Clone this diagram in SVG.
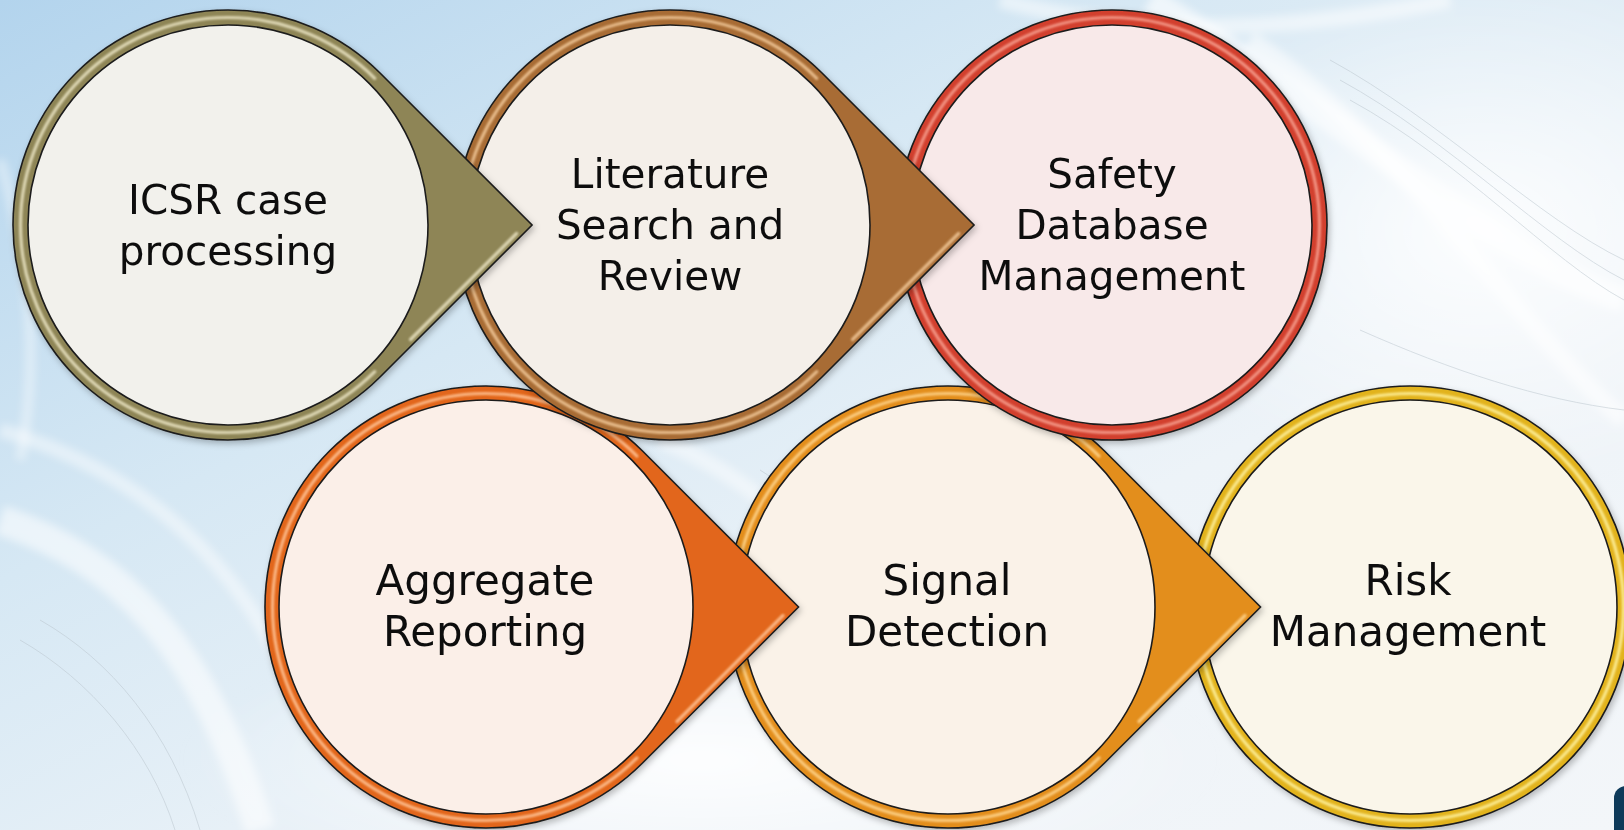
<svg xmlns="http://www.w3.org/2000/svg" width="1624" height="830" viewBox="0 0 1624 830">
  <defs>
    <linearGradient id="bg" x1="0" y1="0" x2="1" y2="1">
      <stop offset="0" stop-color="#b3d4ed"/>
      <stop offset="0.35" stop-color="#d6e8f4"/>
      <stop offset="0.65" stop-color="#edf3f8"/>
      <stop offset="1" stop-color="#f3f6f9"/>
    </linearGradient>
    <radialGradient id="glowR" cx="0.5" cy="0.5" r="0.5">
      <stop offset="0" stop-color="#ffffff" stop-opacity="0.85"/>
      <stop offset="1" stop-color="#ffffff" stop-opacity="0"/>
    </radialGradient>
    <filter id="shadow" x="-10%" y="-10%" width="120%" height="120%">
      <feDropShadow dx="2" dy="3" stdDeviation="3" flood-color="#000" flood-opacity="0.25"/>
    </filter>
    <filter id="soft" x="-5%" y="-5%" width="110%" height="110%">
      <feGaussianBlur stdDeviation="0.9"/>
    </filter>
    <filter id="blurBg" x="-10%" y="-10%" width="120%" height="120%">
      <feGaussianBlur stdDeviation="4"/>
    </filter>
  </defs>
  <style>
    .outer { stroke: #1c1c1c; stroke-width: 1.6; }
    .inner { stroke: #1c1c1c; stroke-width: 1.6; }
    .hl { fill: none; stroke-width: 3.2; stroke-linecap: round; opacity: 0.85; }
    .lbl { font-family: "DejaVu Sans", Verdana, sans-serif; fill: #111111; text-anchor: middle; }
    .top { font-size: 40.5px; }
    .bot { font-size: 42px; }
  </style>

  <!-- background -->
  <rect x="0" y="0" width="1624" height="830" fill="url(#bg)"/>
  <g filter="url(#blurBg)" fill="none">
    <ellipse cx="1480" cy="230" rx="360" ry="260" fill="url(#glowR)"/>
    <ellipse cx="700" cy="760" rx="520" ry="140" fill="url(#glowR)"/>
    <path d="M1150 0 C1350 120 1500 260 1624 300" stroke="#ffffff" stroke-width="26" opacity="0.6"/>
    <path d="M1250 40 C1400 140 1520 330 1624 420" stroke="#ffffff" stroke-width="18" opacity="0.55"/>
    <path d="M1300 420 C1420 470 1520 520 1624 560" stroke="#ffffff" stroke-width="22" opacity="0.5"/>
    <path d="M1000 0 C1150 40 1300 30 1450 0" stroke="#ffffff" stroke-width="16" opacity="0.5"/>
    <path d="M0 520 C120 560 200 640 260 830" stroke="#ffffff" stroke-width="30" opacity="0.55"/>
    <path d="M0 430 C140 470 240 560 300 700" stroke="#ffffff" stroke-width="14" opacity="0.45"/>
    <path d="M0 160 C30 260 40 360 20 460" stroke="#ffffff" stroke-width="10" opacity="0.4"/>
    <path d="M660 440 C760 480 850 560 880 700" stroke="#ffffff" stroke-width="16" opacity="0.45"/>
  </g>
  <g fill="none" stroke="#b9c4cc" stroke-width="1" opacity="0.5">
    <path d="M1330 60 C1440 120 1540 220 1624 260"/>
    <path d="M1340 80 C1450 140 1545 240 1624 280"/>
    <path d="M1350 100 C1460 160 1550 260 1624 300"/>
    <path d="M1360 330 C1450 370 1540 400 1624 410"/>
    <path d="M760 470 C840 520 880 600 900 700"/>
    <path d="M770 490 C845 540 885 620 905 720"/>
    <path d="M40 620 C110 660 170 730 200 830"/>
    <path d="M20 640 C90 680 150 750 175 830"/>
  </g>
  <rect x="1614" y="786" width="40" height="70" rx="12" fill="#0e3a5a"/>

  <!-- connectors: the pointers are part of each node shape -->
  <g id="connectors"></g>

  <!-- Bottom row (drawn first) -->
  <g id="node-risk" filter="url(#shadow)">
    <circle class="outer" cx="1410" cy="607" r="221" fill="#e2b31e"/>
    <circle class="hl" cx="1410" cy="607" r="213.5" stroke="#fff3a0" filter="url(#soft)"/>
    <circle class="inner" cx="1410" cy="607" r="207" fill="#faf6ea"/>
    <text class="lbl bot" x="1408" y="595">Risk</text>
    <text class="lbl bot" x="1408" y="646">Management</text>
  </g>

  <g id="node-signal" filter="url(#shadow)">
    <path class="outer" d="M1104.27 450.73 L1260.54 607 L1104.27 763.27 A221 221 0 1 1 1104.27 450.73 Z" fill="#e38e1e"/>
    <path class="hl" d="M1098.97 757.97 A213.5 213.5 0 1 1 1098.97 456.03" stroke="#ffd68e" filter="url(#soft)"/>
    <path class="hl" d="M1245 615.5 L1139 721.5" stroke="#ffd68e" filter="url(#soft)"/>
    <circle class="inner" cx="948" cy="607" r="207" fill="#faf2e8"/>
    <text class="lbl bot" x="947" y="595">Signal</text>
    <text class="lbl bot" x="947" y="646">Detection</text>
  </g>

  <g id="node-aggregate" filter="url(#shadow)">
    <path class="outer" d="M642.27 450.73 L798.54 607 L642.27 763.27 A221 221 0 1 1 642.27 450.73 Z" fill="#e2661a"/>
    <path class="hl" d="M636.97 757.97 A213.5 213.5 0 1 1 636.97 456.03" stroke="#ffc497" filter="url(#soft)"/>
    <path class="hl" d="M783 615.5 L677 721.5" stroke="#ffc497" filter="url(#soft)"/>
    <circle class="inner" cx="486" cy="607" r="207" fill="#fbefe8"/>
    <text class="lbl bot" x="485" y="595">Aggregate</text>
    <text class="lbl bot" x="485" y="646">Reporting</text>
  </g>

  <!-- Top row -->
  <g id="node-safety" filter="url(#shadow)">
    <circle class="outer" cx="1112" cy="225" r="215" fill="#d2402e"/>
    <circle class="hl" cx="1112" cy="225" r="207.5" stroke="#f7a090" filter="url(#soft)"/>
    <circle class="inner" cx="1112" cy="225" r="200" fill="#f8e9e9"/>
    <text class="lbl top" x="1112" y="188">Safety</text>
    <text class="lbl top" x="1112" y="239">Database</text>
    <text class="lbl top" x="1112" y="290">Management</text>
  </g>

  <g id="node-literature" filter="url(#shadow)">
    <path class="outer" d="M822.03 72.97 L974.06 225 L822.03 377.03 A215 215 0 1 1 822.03 72.97 Z" fill="#a86c34"/>
    <path class="hl" d="M816.72 371.72 A207.5 207.5 0 1 1 816.72 78.28" stroke="#f2c99a" filter="url(#soft)"/>
    <path class="hl" d="M958.6 233.5 L852.6 339.5" stroke="#f2c99a" filter="url(#soft)"/>
    <circle class="inner" cx="670" cy="225" r="200" fill="#f4efe9"/>
    <text class="lbl top" x="670" y="188">Literature</text>
    <text class="lbl top" x="670" y="239">Search and</text>
    <text class="lbl top" x="670" y="290">Review</text>
  </g>

  <g id="node-icsr" filter="url(#shadow)">
    <path class="outer" d="M380.03 72.97 L532.06 225 L380.03 377.03 A215 215 0 1 1 380.03 72.97 Z" fill="#8e8556"/>
    <path class="hl" d="M374.72 371.72 A207.5 207.5 0 1 1 374.72 78.28" stroke="#ebe5c4" filter="url(#soft)"/>
    <path class="hl" d="M516.6 233.5 L410.6 339.5" stroke="#ebe5c4" filter="url(#soft)"/>
    <circle class="inner" cx="228" cy="225" r="200" fill="#f2f1ec"/>
    <text class="lbl top" x="228" y="214">ICSR case</text>
    <text class="lbl top" x="228" y="265">processing</text>
  </g>
</svg>
